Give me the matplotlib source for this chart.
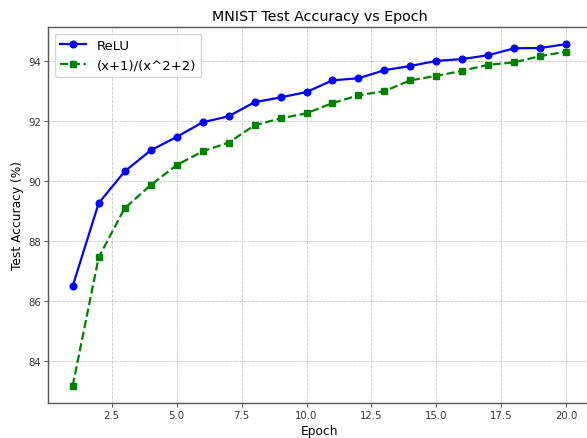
import numpy as np
import matplotlib
matplotlib.use("Agg")
import matplotlib.pyplot as plt

epochs = list(range(1, 21))
relu_acc = [86.50, 89.27, 90.33, 91.03, 91.48, 91.97, 92.17, 92.64, 92.80, 92.98,
            93.37, 93.44, 93.71, 93.85, 94.02, 94.08, 94.21, 94.44, 94.45, 94.58]
rational_acc = [83.17, 87.46, 89.10, 89.87, 90.54, 91.00, 91.29, 91.87, 92.10, 92.27,
                92.61, 92.87, 93.01, 93.37, 93.52, 93.69, 93.89, 93.97, 94.18, 94.33]

fig = plt.figure(figsize=(5.87, 4.39), dpi=100)
# the source figure is cropped on the right, so the axes run past the edge
ax = fig.add_axes([48 / 587, 1 - 404 / 439, 543 / 587, 376 / 439])

ax.plot(epochs, relu_acc, color='blue', marker='o', linestyle='-',
        linewidth=1.6, markersize=4.8, label='ReLU')
ax.plot(epochs, rational_acc, color='green', marker='s', linestyle='--',
        linewidth=1.6, markersize=4.4, label='(x+1)/(x^2+2)')

ax.set_title('MNIST Test Accuracy vs Epoch', fontsize=10.3, pad=5)
ax.set_xlabel('Epoch', fontsize=8.8, labelpad=3)
ax.set_ylabel('Test Accuracy (%)', fontsize=8.8, labelpad=3)
ax.tick_params(labelsize=7.3, width=0.6, length=2.6, pad=2.5, colors='#333333')
ax.grid(True, linestyle='--', color='#b0b0b0', alpha=0.7, linewidth=0.6)
for s in ax.spines.values():
    s.set_color('#555555')
    s.set_linewidth(1.0)
ax.spines['right'].set_visible(False)
ax.legend(fontsize=9.5, loc='upper left')

fig.savefig('out.png', dpi=100)
